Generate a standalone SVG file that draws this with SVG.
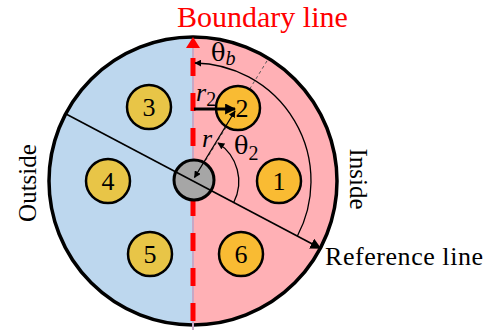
<svg xmlns="http://www.w3.org/2000/svg" width="491" height="330" viewBox="0 0 491 330">
<defs>
<marker id="ah" viewBox="0 0 10 10" refX="9" refY="5" markerWidth="7" markerHeight="7" orient="auto-start-reverse" markerUnits="userSpaceOnUse"><path d="M0,0 L10,5 L0,10 Z" fill="#000"/></marker>
<marker id="ahb" viewBox="0 0 10 10" refX="9" refY="5" markerWidth="11" markerHeight="11" orient="auto-start-reverse" markerUnits="userSpaceOnUse"><path d="M0,0 L10,5 L0,10 Z" fill="#000"/></marker>
<clipPath id="cc"><circle cx="193" cy="181" r="144"/></clipPath>
</defs>
<style>
.t{font-family:"Liberation Serif","Times New Roman",serif;fill:#000}
.g{font-family:"DejaVu Serif","Liberation Serif",serif}
.ci{stroke:#000;stroke-width:2.5}
.l{fill:#E8C547}
.r{fill:#F9BB33}
.num{font-family:"Liberation Serif","Times New Roman",serif;font-size:26px;text-anchor:middle;fill:#000}
</style>
<g id="disk">
<g clip-path="url(#cc)">
<rect x="40" y="30" width="153" height="300" fill="#BDD7EE"/>
<rect x="193" y="30" width="160" height="300" fill="#FFB0B5"/>
</g>
<circle cx="193" cy="181" r="144" fill="none" stroke="#000" stroke-width="3.5"/>
</g>
<g id="boundary">
<line x1="193" y1="40" x2="193" y2="330" stroke="#C7A8C6" stroke-width="2"/>
<line x1="193" y1="58" x2="193" y2="330" stroke="#FF0000" stroke-width="5" stroke-dasharray="18 17"/>
<polygon points="193,37 186,48 200,48" fill="#FF0000"/>
</g>
<g id="connectors" fill="none" stroke="#000">
<line x1="193" y1="181" x2="268.5" y2="58.5" stroke-width="1" stroke-dasharray="3 3" stroke="#555"/>
<path d="M297.4,236 A118,118 0 0 0 195,63" stroke-width="1.3" marker-end="url(#ah)"/>
<path d="M233.7,202.5 A46,46 0 0 0 218,143" stroke-width="1.3" marker-end="url(#ah)"/>
</g>
<g id="n1"><circle class="ci r" cx="279" cy="181" r="22"/><text class="num" x="279" y="190">1</text></g>
<g id="n2"><circle class="ci r" cx="238" cy="108" r="22"/><text class="num" x="242" y="117">2</text></g>
<g id="n3"><circle class="ci l" cx="149" cy="107" r="22"/><text class="num" x="149" y="116">3</text></g>
<g id="n4"><circle class="ci l" cx="108" cy="181" r="22"/><text class="num" x="108" y="190">4</text></g>
<g id="n5"><circle class="ci l" cx="150" cy="254" r="22"/><text class="num" x="150" y="263">5</text></g>
<g id="n6"><circle class="ci r" cx="241" cy="254" r="22"/><text class="num" x="241" y="263">6</text></g>
<g id="center"><circle cx="194" cy="180" r="20" fill="#A6A6A6" stroke="#000" stroke-width="3"/></g>
<g id="lines" fill="none" stroke="#000">
<line x1="65.6" y1="113.8" x2="320.4" y2="248.2" stroke-width="1.6" marker-end="url(#ahb)"/>
<line x1="194.5" y1="177.5" x2="235" y2="111" stroke-width="1.3" marker-start="url(#ah)" marker-end="url(#ah)"/>
<line x1="194" y1="109" x2="235" y2="109" stroke-width="3" marker-end="url(#ahb)"/>
</g>
<g id="labels">
<text class="t" x="177" y="27" font-size="30" style="fill:#FF0000">Boundary line</text>
<text class="t" x="325" y="265" font-size="26" textLength="158" lengthAdjust="spacing">Reference line</text>
<text class="t" font-size="25" text-anchor="middle" transform="translate(350,179) rotate(90)">Inside</text>
<text class="t" font-size="25" text-anchor="middle" transform="translate(36,183) rotate(-90)">Outside</text>
<text class="t" x="211" y="61" font-size="24"><tspan class="g">θ</tspan><tspan font-size="20" font-style="italic" dy="4">b</tspan></text>
<text class="t" x="234" y="154" font-size="24"><tspan class="g">θ</tspan><tspan font-size="20" dy="6">2</tspan></text>
<text class="t" x="196" y="101" font-size="26" font-style="italic">r<tspan font-size="20" font-style="normal" dy="5">2</tspan></text>
<text class="t" x="202" y="147" font-size="26" font-style="italic">r</text>
</g>
</svg>
